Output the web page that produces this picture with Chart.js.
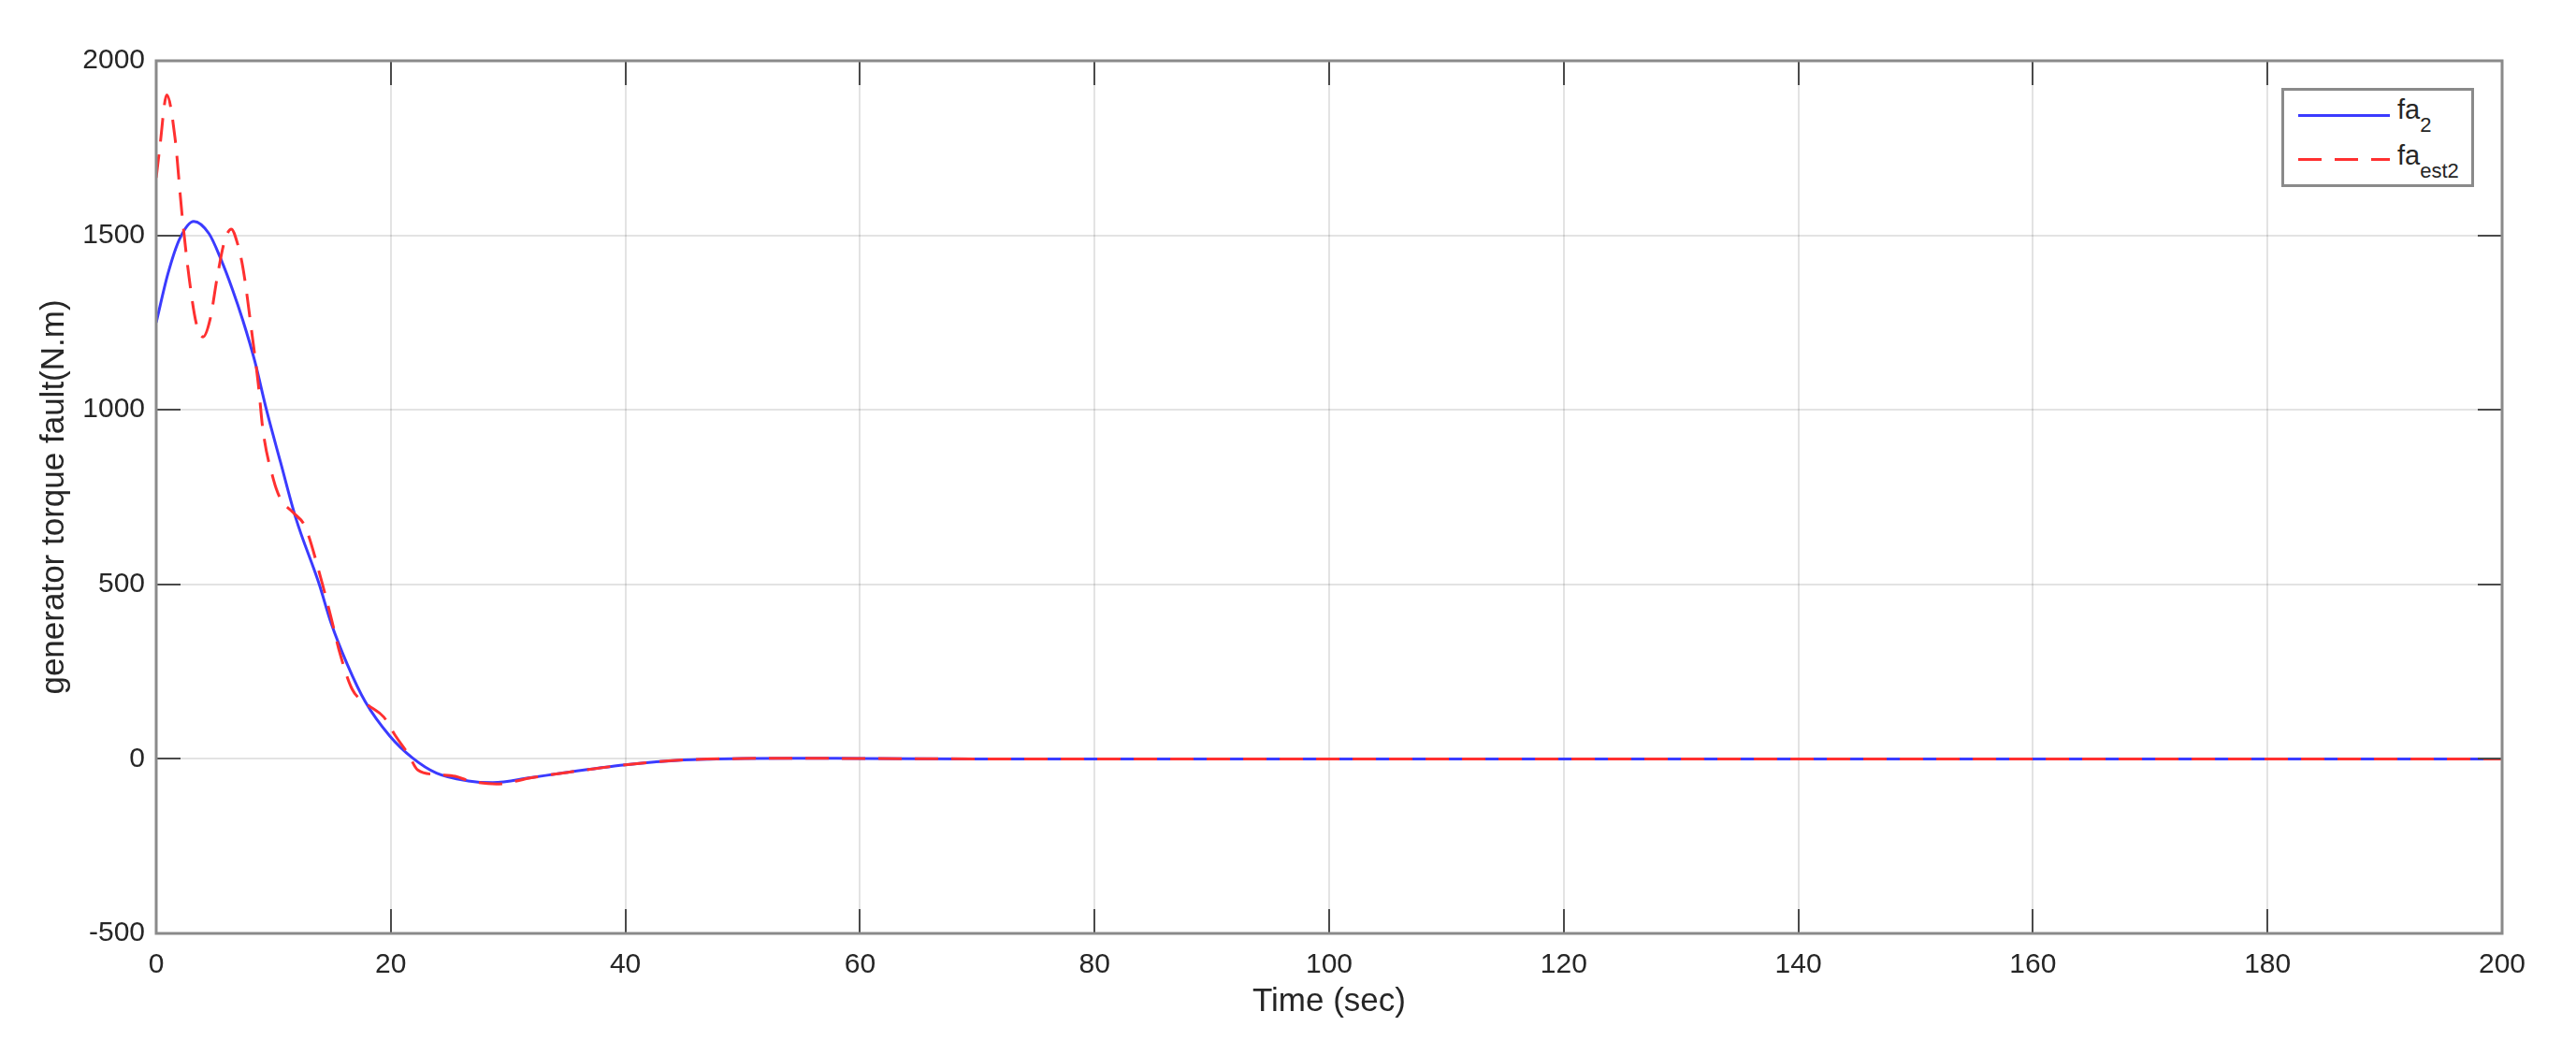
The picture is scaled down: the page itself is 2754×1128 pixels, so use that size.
<!DOCTYPE html>
<html>
<head>
<meta charset="utf-8">
<script src="https://cdn.jsdelivr.net/npm/chart.js@4.4.1/dist/chart.umd.min.js"></script>
<style>
  body { margin: 0; background: #fff; }
  #wrap { position: relative; width: 2754px; height: 1128px; }
  #legend {
    position: absolute; left: 2439px; top: 94px; width: 200px; height: 100px;
    border: 3px solid #8a8a8a; background: #fff;
    font-family: "Liberation Sans", Arial, sans-serif; color: #262626;
  }
  .sample { position: absolute; left: 15px; width: 98px; height: 3px; }
  .label { position: absolute; left: 121px; font-size: 29px; line-height: 29px; white-space: nowrap; }
  .label sub { font-size: 22px; vertical-align: -14px; line-height: 0; }
</style>
</head>
<body>
<div id="wrap">
  <canvas id="chart"></canvas>
  <div id="legend">
    <div class="sample" style="top:25px; background:#3b3bff;"></div>
    <div class="label" style="top:6px;">fa<sub>2</sub></div>
    <div class="sample" style="top:72px; background:repeating-linear-gradient(to right,#ff3030 0 25px,transparent 25px 39px);"></div>
    <div class="label" style="top:55px;">fa<sub>est2</sub></div>
  </div>
</div>
<script>
const faTime   = [0, 1, 2, 3.2, 4.5, 5.5, 6.5, 7.4, 8.4, 9.4, 10.6, 11.9, 13.9, 14.9, 16.3, 17.8, 19.9, 21.8, 23.9, 26.6, 28.7, 31.9, 34.5, 40, 45, 50, 55, 60, 70, 200];
const faValues = [1250, 1390, 1490, 1540, 1505, 1433, 1345, 1255, 1140, 1000, 850, 690, 500, 390, 270, 165, 66, 4, -41, -63, -68, -54, -41, -17, -3, 1, 2, 1, 0, 0];

// fa_est2 (estimate)
const estTime   = [0, 0.3, 0.9, 1.6, 2.2, 2.8, 3.4, 4.0, 4.6, 5.2, 5.8, 6.4, 6.9, 7.4, 8.2, 8.7, 9.1, 10, 10.6, 11.7, 12.7, 14, 14.9, 15.7, 16.7, 18, 19.4, 20.4, 21.5, 22.3, 23.9, 25.5, 26.7, 29, 32, 35, 40, 45, 50, 55, 60, 70, 200];
const estValues = [1665, 1750, 1902, 1780, 1560, 1380, 1250, 1209, 1260, 1380, 1480, 1518, 1480, 1406, 1209, 1075, 942, 800, 745, 705, 665, 522, 406, 298, 200, 156, 120, 66, 13, -32, -45, -50, -63, -72, -54, -39, -17, -3, 1, 2, 1, 0, 0];

const xLimits = [0, 200];
const yLimits = [-500, 2000];

const toPoints = (xs, ys) => xs.map((x, i) => ({ x: x, y: ys[i] }));

const FONT = '"Liberation Sans", Arial, sans-serif';
const AXIS_COLOR = '#8a8a8a';
const TICK_COLOR = '#4a4a4a';
const TICK_LEN = 26;

// box round the plot plus inward tick marks (MATLAB style)
const boxPlugin = {
  id: 'box',
  afterDatasetsDraw(chart) {
    const { ctx, chartArea: a, scales } = chart;
    ctx.save();
    ctx.strokeStyle = TICK_COLOR;
    ctx.lineWidth = 2;
    ctx.beginPath();
    scales.x.ticks.forEach(t => {
      const px = Math.round(scales.x.getPixelForValue(t.value));
      ctx.moveTo(px, a.bottom); ctx.lineTo(px, a.bottom - TICK_LEN);
      ctx.moveTo(px, a.top); ctx.lineTo(px, a.top + TICK_LEN);
    });
    scales.y.ticks.forEach(t => {
      const py = Math.round(scales.y.getPixelForValue(t.value));
      ctx.moveTo(a.left, py); ctx.lineTo(a.left + TICK_LEN, py);
      ctx.moveTo(a.right, py); ctx.lineTo(a.right - TICK_LEN, py);
    });
    ctx.stroke();
    ctx.strokeStyle = AXIS_COLOR;
    ctx.lineWidth = 3;
    ctx.strokeRect(a.left, a.top, a.right - a.left, a.bottom - a.top);
    ctx.restore();
  }
};

new Chart(document.getElementById('chart'), {
  type: 'line',
  data: {
    datasets: [
      {
        label: 'fa2',
        data: toPoints(faTime, faValues),
        borderColor: '#3b3bff',
        borderWidth: 3,
        pointRadius: 0,
        cubicInterpolationMode: 'monotone',
        order: 2
      },
      {
        label: 'faest2',
        data: toPoints(estTime, estValues),
        borderColor: '#ff3030',
        borderWidth: 3,
        borderDash: [25, 14],
        pointRadius: 0,
        cubicInterpolationMode: 'monotone',
        order: 1
      }
    ]
  },
  options: {
    responsive: true,
    maintainAspectRatio: false,
    animation: false,
    layout: { padding: { top: 65, right: 79, left: 0, bottom: 0 } },
    plugins: {
      legend: { display: false },
      tooltip: { enabled: false }
    },
    scales: {
      x: {
        type: 'linear',
        min: xLimits[0],
        max: xLimits[1],
        ticks: {
          stepSize: 20,
          padding: 16,
          color: '#262626',
          font: { family: FONT, size: 30 },
          callback: v => String(v)
        },
        grid: { color: 'rgba(38,38,38,0.13)', lineWidth: 2, drawTicks: false },
        border: { display: false },
        title: {
          display: true,
          text: 'Time (sec)',
          color: '#262626',
          font: { family: FONT, size: 35 },
          padding: { bottom: 36, top: 0 }
        },
        afterFit(scale) { scale.height = 130; }
      },
      y: {
        min: yLimits[0],
        max: yLimits[1],
        ticks: {
          stepSize: 500,
          padding: 12,
          color: '#262626',
          font: { family: FONT, size: 30 },
          callback: v => String(v)
        },
        grid: { color: 'rgba(38,38,38,0.13)', lineWidth: 2, drawTicks: false },
        border: { display: false },
        title: {
          display: true,
          text: 'generator torque fault(N.m)',
          color: '#262626',
          font: { family: FONT, size: 35 },
          padding: { top: 37, bottom: 0 }
        },
        afterFit(scale) { scale.width = 167; }
      }
    }
  },
  plugins: [boxPlugin]
});
</script>
</body>
</html>
